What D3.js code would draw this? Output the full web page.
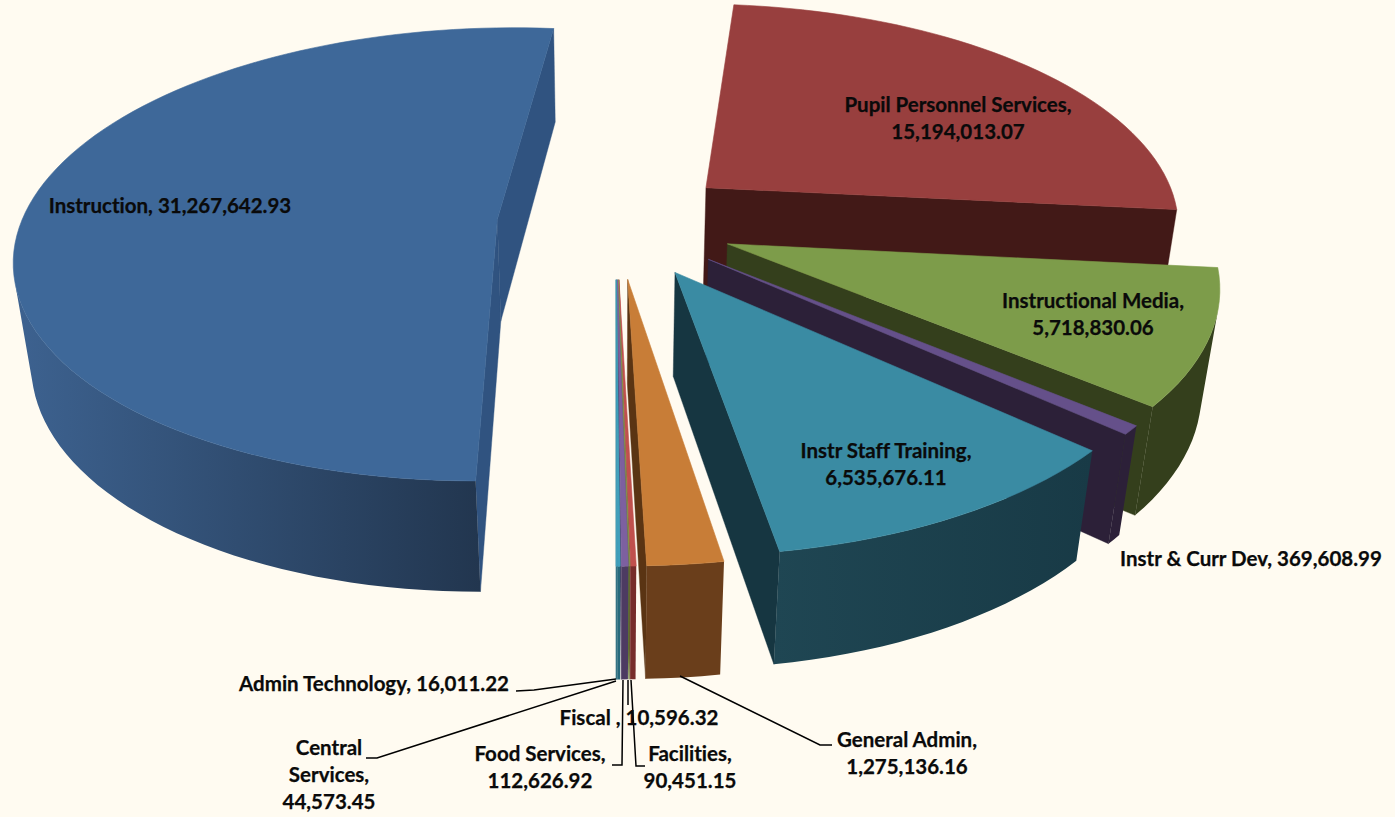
<!DOCTYPE html>
<html><head><meta charset="utf-8">
<script src="https://cdnjs.cloudflare.com/ajax/libs/d3/7.8.5/d3.min.js"></script>
<style>html,body{margin:0;padding:0;background:#FFFBF1}svg{display:block}
text{font-family:Lato,"Open Sans",sans-serif;font-weight:700;fill:#0a0a0a;stroke:#0a0a0a;stroke-width:.25px;font-size:20.5px;text-anchor:middle;font-variant-ligatures:none}</style>
</head><body><svg id="c" width="1395" height="817"></svg>
<script>
// ---- data ----
const categories = ["Instruction","Pupil Personnel Services","Instructional Media","Instr & Curr Dev","Instr Staff Training","General Admin","Facilities","Fiscal ","Food Services","Central Services","Admin Technology"];
const values = [31267642.93,15194013.07,5718830.06,369608.99,6535676.11,1275136.16,90451.15,10596.32,112626.92,44573.45,16011.22];
// ---- styles ----
const topColors  = ["#3E6899","#983F3E","#7D9C4A","#65508A","#3A8BA3","#C87D37","#C0504D","#8A9A50","#7D60A0","#3FA0BC","#3FA0BC"];
const wallRight  = ["#22364F","#421917","#343F1C","#2C2038","#183A46","#6A3E1B","#772C2A","#5F7530","#4D3B62","#276A7C","#276A7C"];
const wallLeft   = ["#3D6290","#421917","#343F1C","#2C2038","#1F4653","#6A3E1B","#772C2A","#5F7530","#4D3B62","#276A7C","#276A7C"];
const cutColors  = ["#305380","#421917","#343F1C","#2C2038","#163641","#5A3413","#772C2A","#5F7530","#4D3B62","#276A7C","#276A7C"];
// ---- projection parameters ----
const cam = {cx:616, cy:222, A:476, B:222, Z:105, k:0.155, m:0.03};
const explode = 0.25;
function project(x,y,lower){
  const w = 1 + cam.k*y + (lower?cam.m:0);
  return [cam.cx + cam.A*x/w, cam.cy + (-cam.B*y + (lower?cam.Z:0))/w];
}
// ---- layout of labels ----
const fmt = d3.format(",.2f");
const labelLayout = [
 {i:0, x:170, y:206, lines:d=>[`${d.c}, ${d.v}`]},
 {i:1, x:958, y:105, lines:d=>[`${d.c},`,d.v]},
 {i:2, x:1093,y:301, lines:d=>[`${d.c},`,d.v]},
 {i:3, x:1251,y:559, lines:d=>[`${d.c}, ${d.v}`]},
 {i:4, x:886, y:451, lines:d=>[`${d.c},`,d.v]},
 {i:5, x:907, y:740, lines:d=>[`${d.c},`,d.v]},
 {i:6, x:690, y:754, lines:d=>[`${d.c},`,d.v]},
 {i:7, x:639, y:718, lines:d=>[`${d.c}, ${d.v}`]},
 {i:8, x:540, y:754, lines:d=>[`${d.c},`,d.v]},
 {i:9, x:329, y:748, lines:d=>["Central","Services,",d.v]},
 {i:10,x:374, y:684, lines:d=>[`${d.c}, ${d.v}`]}
];
const leaders = [
 {i:10, pts:[[534,690],[516,691]], from:[616,679]},
 {i:9,  pts:[[377,758],[366,758]], from:[616,681]},
 {i:8,  pts:[[622,765],[612,765]], from:[623,680]},
 {i:7,  pts:[[628,705]], from:[628,680]},
 {i:6,  pts:[[636,766],[645,766]], from:[631,680]},
 {i:5,  pts:[[820,745],[832,745]], from:[680,676]}
];
// ---- draw ----
const svg = d3.select("#c");
svg.append("rect").attr("width",1395).attr("height",817).attr("fill","#FFFBF1");
const defs = svg.append("defs");
const pie = d3.pie().sort(null).startAngle(Math.PI).endAngle(3*Math.PI).value(d=>d);
const arcs = pie(values).map((a,i)=>({...a,i}));
const line = d3.line();
const drawOrder = [1,2,3,4,5,6,7,8,9,10,0];
const area = p=>d3.polygonArea(p);
drawOrder.forEach(i=>{
  const a = arcs[i], g = svg.append("g");
  const mid=(a.startAngle+a.endAngle)/2;
  const ox=explode*Math.sin(mid), oy=explode*Math.cos(mid);
  const P=(t,r,l)=>project(ox+r*Math.sin(t),oy+r*Math.cos(t),l);
  const n=Math.max(1,Math.ceil((a.endAngle-a.startAngle)/(Math.PI/90)));
  const ts=d3.range(n+1).map(j=>a.startAngle+(a.endAngle-a.startAngle)*j/n);
  // radial cut faces
  [[a.startAngle,1],[a.endAngle,-1]].forEach(([t,s])=>{
    const q=[P(t,0,false),P(t,1,false),P(t,1,true),P(t,0,true)];
    if(area(q)*s>0) g.append("path").attr("d",line(q)+"Z").attr("fill",cutColors[i]).attr("stroke",cutColors[i]).attr("stroke-width",.4);
  });
  // outer wall: one path over the segments that face the viewer
  const vis=d3.range(n).filter(j=>area([P(ts[j],1,false),P(ts[j+1],1,false),P(ts[j+1],1,true),P(ts[j],1,true)])>=0);
  if(vis.length){
    const tv=d3.range(vis[0],vis[vis.length-1]+2).map(j=>ts[j]);
    const q=[...tv.map(t=>P(t,1,false)),...tv.slice().reverse().map(t=>P(t,1,true))];
    const [x0,x1]=d3.extent(q,p=>p[0]);
    const gr=defs.append("linearGradient").attr("id","w"+i).attr("gradientUnits","userSpaceOnUse")
      .attr("x1",x0).attr("x2",x1).attr("y1",0).attr("y2",0);
    gr.append("stop").attr("offset",0).attr("stop-color",wallLeft[i]);
    gr.append("stop").attr("offset",1).attr("stop-color",wallRight[i]);
    g.append("path").attr("d",line(q)+"Z").attr("fill",`url(#w${i})`);
  }
  // top face
  const topPts=[P(0,0,false),...ts.map(t=>P(t,1,false))];
  g.append("path").attr("d",line(topPts)+"Z").attr("fill",topColors[i]).attr("stroke",topColors[i]).attr("stroke-width",.6);
});
leaders.forEach(l=>{
  svg.append("path").attr("d",line([l.from,...l.pts])).attr("fill","none").attr("stroke","#000").attr("stroke-width",1.5);
});
labelLayout.forEach(l=>{
  const lines=l.lines({c:categories[l.i],v:fmt(values[l.i])});
  const t=svg.append("text").attr("x",l.x).attr("y",l.y).attr("dy","0.35em");
  lines.forEach((s,j)=>t.append("tspan").attr("x",l.x).attr("dy",j?"27":"0.35em").text(s));
});
</script></body></html>
